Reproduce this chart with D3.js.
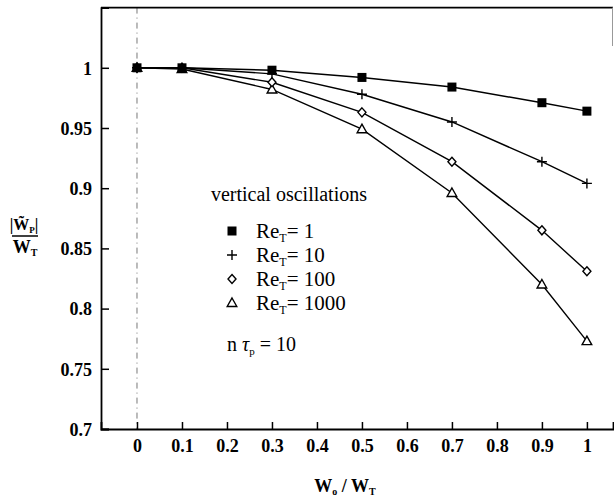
<!DOCTYPE html>
<html><head><meta charset="utf-8">
<script src="https://cdn.jsdelivr.net/npm/d3@7"></script>
<style>
body{margin:0;background:#fff;}
svg{display:block;}
text{font-family:"Liberation Serif","DejaVu Serif",serif;fill:#000;}
</style></head>
<body><svg id="c" width="614" height="501"></svg>
<script>
const xValues = [0, 0.1, 0.3, 0.5, 0.7, 0.9, 1];
const re1    = [1.000, 1.000, 0.998, 0.992, 0.984, 0.971, 0.964];
const re10   = [1.000, 1.000, 0.995, 0.978, 0.955, 0.922, 0.904];
const re100  = [1.000, 1.000, 0.988, 0.963, 0.922, 0.865, 0.831];
const re1000 = [1.000, 0.999, 0.982, 0.949, 0.896, 0.820, 0.773];
const seriesNames = ["1", "10", "100", "1000"];
const seriesSymbols = ["square", "plus", "diamond", "triangle"];
const xTicks = [0, 0.1, 0.2, 0.3, 0.4, 0.5, 0.6, 0.7, 0.8, 0.9, 1];
const yTicks = [0.7, 0.75, 0.8, 0.85, 0.9, 0.95, 1];

const svg = d3.select("#c");
const x = d3.scaleLinear().domain([-0.08, 1.058]).range([101, 613]);
const y = d3.scaleLinear().domain([0.7, 1.05]).range([429, 7.6]);

// x = 0 dash-dot guide
svg.append("line").attr("x1", x(0)).attr("x2", x(0)).attr("y1", y(1.05)).attr("y2", y(0.7))
  .attr("stroke", "#777").attr("stroke-width", 1).attr("stroke-dasharray", "6,4,1,4");

// frame top and partial right
svg.append("line").attr("x1", x(-0.08)).attr("x2", x(1.058)).attr("y1", y(1.05)).attr("y2", y(1.05))
  .attr("stroke", "#000").attr("stroke-width", 1.8);
svg.append("line").attr("x1", 612.5).attr("x2", 612.5).attr("y1", y(1.05)).attr("y2", 46)
  .attr("stroke", "#999").attr("stroke-width", 1);

// axes
const fmt = d => String(+d.toFixed(2));
const yAxis = svg.append("g").attr("transform", `translate(${x(-0.08)},0)`)
  .call(d3.axisLeft(y).tickValues(yTicks).tickSize(-8).tickPadding(9).tickFormat(fmt));
const xAxis = svg.append("g").attr("transform", `translate(0,${y(0.7)})`)
  .call(d3.axisBottom(x).tickValues(xTicks).tickSize(-7).tickPadding(10).tickFormat(fmt));
[yAxis, xAxis].forEach(a => {
  a.select(".domain").attr("stroke", "#000").attr("stroke-width", 1.8);
  a.selectAll(".tick line").attr("stroke", "#000").attr("stroke-width", 1.5);
  a.selectAll(".tick text").style("font-family", '"Liberation Serif",serif')
    .style("font-size", "18px").style("font-weight", "bold").attr("fill", "#000");
});
yAxis.selectAll(".tick text").attr("dy", "0.35em");
xAxis.selectAll(".tick text").attr("dy", "0.72em");

// series
const allSeries = [re1, re10, re100, re1000];
const line = d3.line().x((d, i) => x(xValues[i])).y(d => y(d));
function drawSymbol(g, type, cx, cy) {
  if (type === "square") {
    g.append("rect").attr("x", cx - 4.5).attr("y", cy - 4.5).attr("width", 9).attr("height", 9).attr("fill", "#000");
  } else if (type === "plus") {
    g.append("path").attr("d", `M${cx-5},${cy}H${cx+5}M${cx},${cy-5}V${cy+5}`)
      .attr("stroke", "#000").attr("stroke-width", 1.4).attr("fill", "none");
  } else if (type === "diamond") {
    g.append("path").attr("d", `M${cx},${cy-4.5}L${cx+4},${cy}L${cx},${cy+4.5}L${cx-4},${cy}Z`)
      .attr("stroke", "#000").attr("stroke-width", 1.4).attr("fill", "#fff");
  } else {
    g.append("path").attr("d", `M${cx},${cy-5}L${cx+4.8},${cy+3.5}L${cx-4.8},${cy+3.5}Z`)
      .attr("stroke", "#000").attr("stroke-width", 1.4).attr("fill", "#fff");
  }
}
allSeries.forEach((s, k) => {
  svg.append("path").datum(s).attr("d", line).attr("fill", "none")
    .attr("stroke", "#000").attr("stroke-width", 1.4);
});
// draw markers in reverse so squares sit on top
for (let k = allSeries.length - 1; k >= 0; k--) {
  const g = svg.append("g");
  allSeries[k].forEach((v, i) => drawSymbol(g, seriesSymbols[k], x(xValues[i]), y(v)));
}

// legend
svg.append("text").attr("x", 289).attr("y", 201).attr("text-anchor", "middle")
  .style("font-size", "20px").text("vertical oscillations");
seriesNames.forEach((n, i) => {
  const cy = 231 + i * 24;
  const g = svg.append("g");
  drawSymbol(g, seriesSymbols[i], 232, cy);
  const t = svg.append("text").attr("x", 256).attr("y", cy + 7).style("font-size", "21px");
  t.append("tspan").text("Re");
  t.append("tspan").attr("dy", 4).style("font-size", "12px").text("T");
  t.append("tspan").attr("dy", -4).text("= " + n);
});
const nt = svg.append("text").attr("x", 227).attr("y", 351).style("font-size", "20px");
nt.append("tspan").text("n ");
nt.append("tspan").style("font-style", "italic").text("τ");
nt.append("tspan").attr("dy", 4).style("font-size", "11px").text("p");
nt.append("tspan").attr("dy", -4).text(" = 10");

// y label (fraction)
const yl = svg.append("text").attr("x", 24).attr("y", 230).attr("text-anchor", "middle")
  .style("font-size", "16px").style("font-weight", "bold");
yl.append("tspan").text("|W\u0303");
yl.append("tspan").attr("dy", 3).style("font-size", "9px").text("P");
yl.append("tspan").attr("dy", -3).text("|");
svg.append("line").attr("x1", 12).attr("x2", 38).attr("y1", 236).attr("y2", 236)
  .attr("stroke", "#000").attr("stroke-width", 1.5);
const yl2 = svg.append("text").attr("x", 25).attr("y", 253).attr("text-anchor", "middle")
  .style("font-size", "18px").style("font-weight", "bold");
yl2.append("tspan").text("W");
yl2.append("tspan").attr("dy", 3).style("font-size", "10px").text("T");

// x label
const xl = svg.append("text").attr("x", 345).attr("y", 492).attr("text-anchor", "middle")
  .style("font-size", "18px").style("font-weight", "bold");
xl.append("tspan").text("W");
xl.append("tspan").attr("dy", 3).style("font-size", "10px").text("o");
xl.append("tspan").attr("dy", -3).text(" / W");
xl.append("tspan").attr("dy", 3).style("font-size", "10px").text("T");
</script></body></html>
